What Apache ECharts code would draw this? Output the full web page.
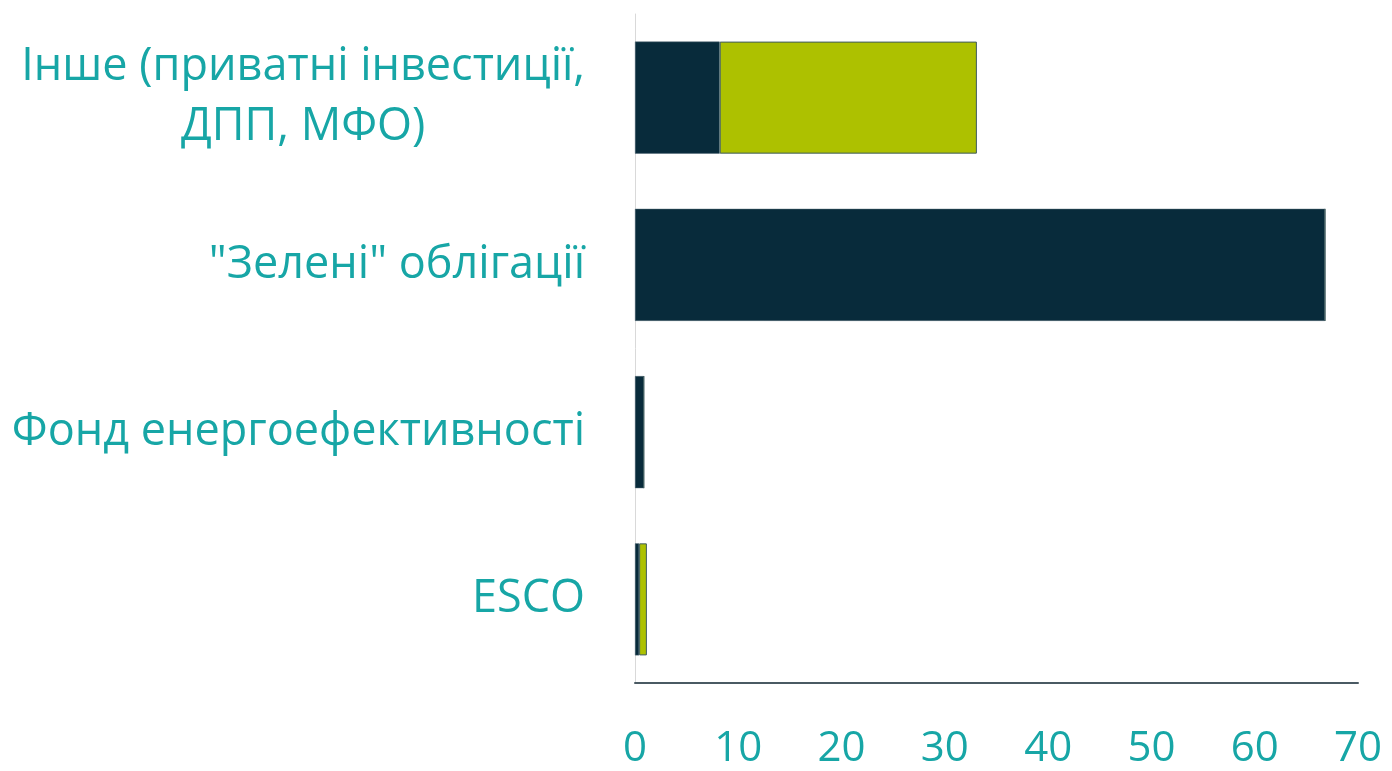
<!DOCTYPE html>
<html>
<head>
<meta charset="utf-8">
<script src="https://cdn.jsdelivr.net/npm/echarts@6/dist/echarts.min.js"></script>
<style>
  html, body { margin: 0; padding: 0; background: #fff; }
  #chart { width: 1392px; height: 771px; }
</style>
</head>
<body>
<div id="chart"></div>
<script>
var chart = echarts.init(document.querySelector('#chart'));

// дані, знизу вгору
const categories = ['ESCO', 'Фонд енергоефективності', '"Зелені" облігації', 'Інше (приватні інвестиції,\nДПП, МФО)'];
const darkValues = [0.4, 0.85, 66.8, 8.2];
const greenValues = [0.75, 0, 0, 24.9];
const xTicks = [0, 10, 20, 30, 40, 50, 60, 70];

const teal = '#17a6a6';
const font = '"Open Sans", "Segoe UI", sans-serif';

const options = {
  animation: false,
  grid: { left: 635, right: 34, top: 14, bottom: 88 },
  xAxis: {
    type: 'value',
    min: xTicks[0],
    max: xTicks[xTicks.length - 1],
    interval: 10,
    splitLine: { show: false },
    axisTick: { show: false },
    axisLine: { show: true, lineStyle: { color: '#4a5a63', width: 2 } },
    axisLabel: { color: teal, fontSize: 42, fontFamily: font, margin: 45 }
  },
  yAxis: {
    type: 'category',
    data: categories,
    axisTick: { show: false },
    axisLine: { show: true, lineStyle: { color: '#d9d9d9', width: 1 } },
    axisLabel: {
      margin: 50,
      formatter: function (v) {
        return v.split('\n').map(function (s) { return '{a|' + s + '}'; }).join('\n');
      },
      rich: {
        a: { color: teal, fontSize: 45, fontFamily: font, lineHeight: 60, align: 'center' }
      }
    }
  },
  series: [{
    name: 'dark',
    type: 'bar',
    stack: 'total',
    barWidth: '67%',
    data: darkValues,
    itemStyle: { color: '#082b3b', borderColor: '#4c6470', borderWidth: 0.5 }
  }, {
    name: 'green',
    type: 'bar',
    stack: 'total',
    data: greenValues,
    itemStyle: { color: '#adc100', borderColor: '#3e5a5e', borderWidth: 1 }
  }]
};
chart.setOption(options);
</script>
</body>
</html>
